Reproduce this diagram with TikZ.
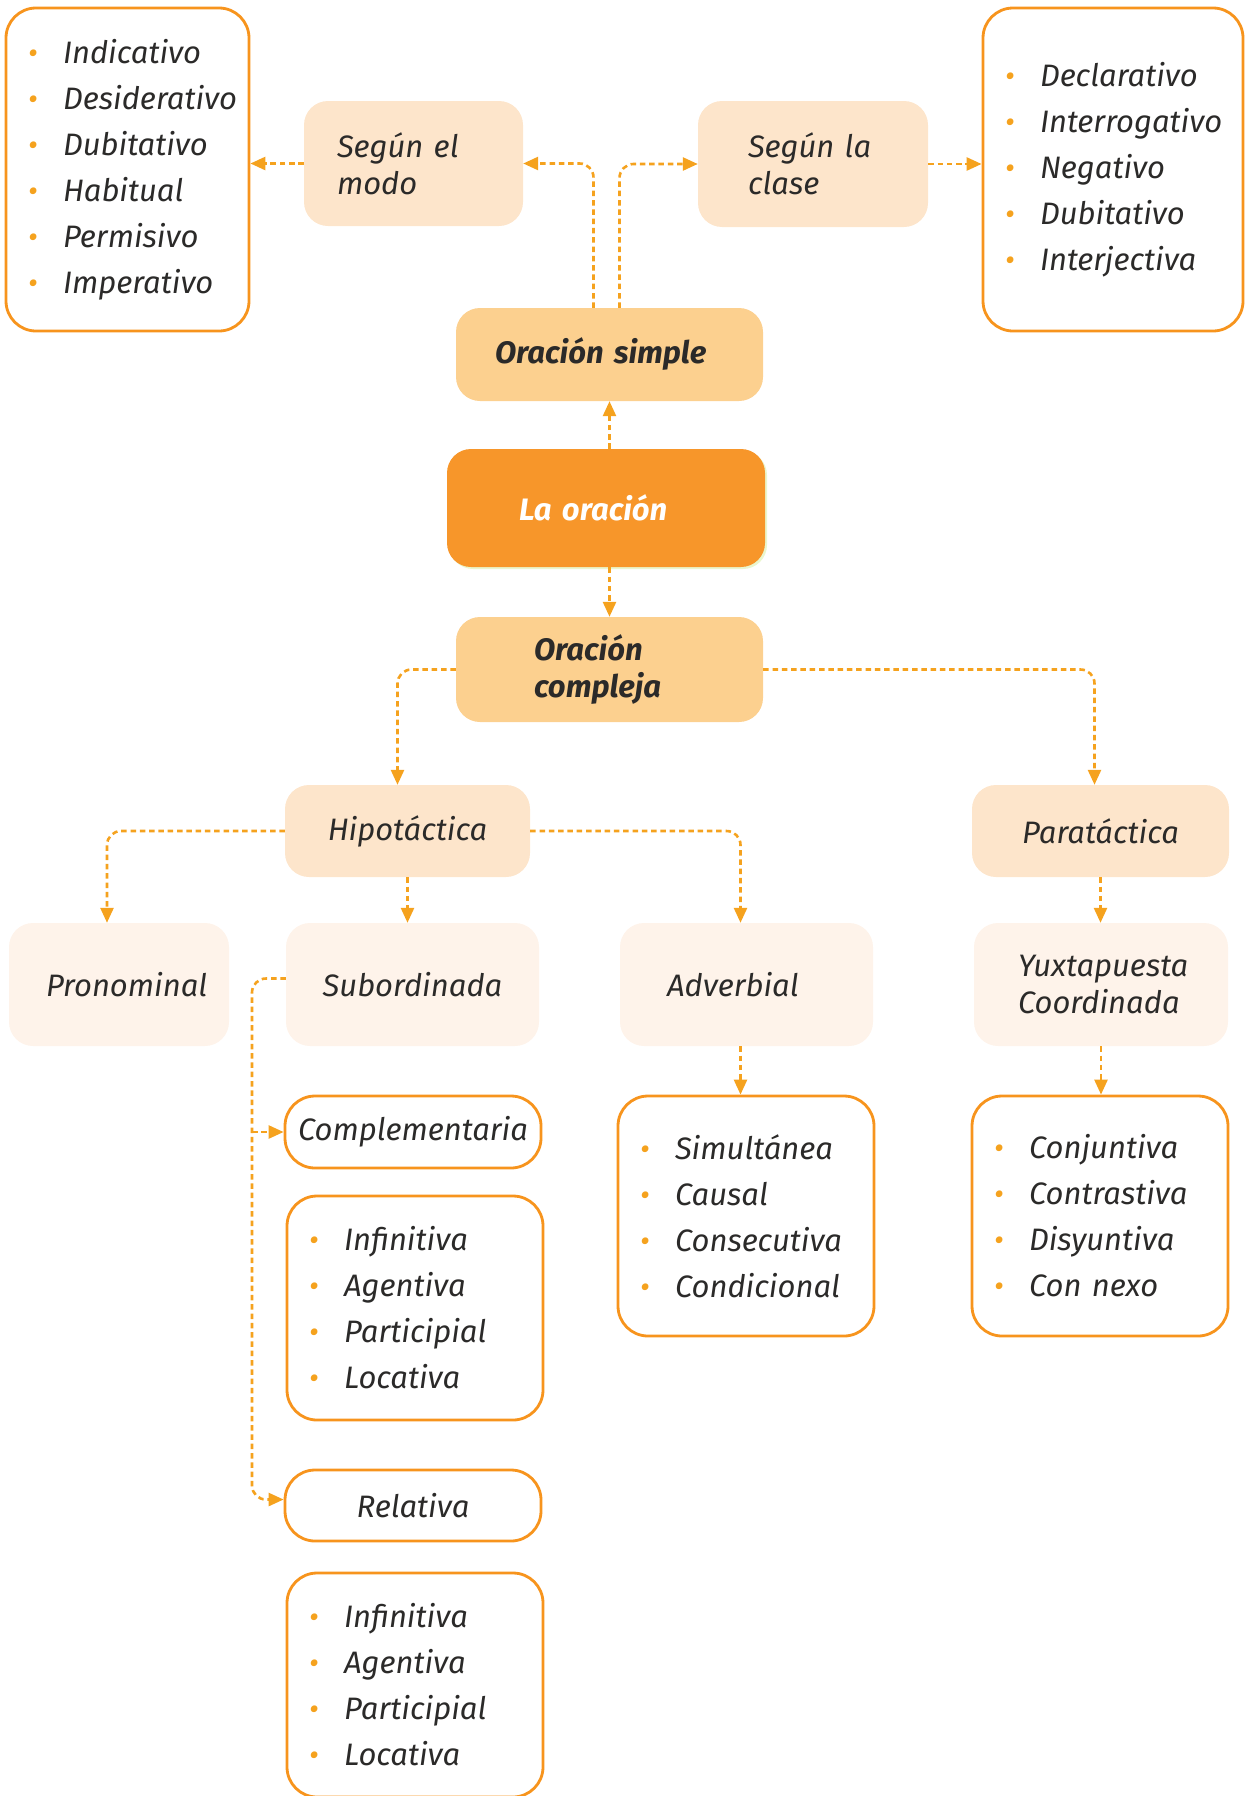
\documentclass[tikz,border=0pt]{standalone}
\usepackage{fontspec}
\setmainfont{Fira Sans}
\usetikzlibrary{arrows.meta,shadows}
\definecolor{mainor}{HTML}{F7962A}
\definecolor{midor}{HTML}{FCD08F}
\definecolor{lightor}{HTML}{FDE5CB}
\definecolor{paleor}{HTML}{FEF3EA}
\definecolor{lineor}{HTML}{F7941D}
\definecolor{arrowor}{HTML}{F5A21E}
\definecolor{txtc}{HTML}{2B2A29}
\newcommand{\itm}[1]{\makebox[35pt][l]{\textcolor{arrowor}{\fontsize{30}{30}\selectfont\textbullet}}#1}
\begin{document}
\begin{tikzpicture}[x=1pt,y=-1pt]
      \tikzstyle{base}=[rectangle,rounded corners=24pt,text=txtc,inner sep=0pt,align=center,font=\fontsize{31}{37}\selectfont\itshape]
      \tikzstyle{mainbox}=[base,fill=mainor,text=white,font=\fontsize{31}{37}\selectfont\bfseries\itshape,drop shadow={shadow xshift=2pt,shadow yshift=-2pt,fill=yellow!60!green!40,opacity=0.5}]
      \tikzstyle{levelone}=[base,fill=midor,font=\fontsize{31}{37}\selectfont\bfseries\itshape]
      \tikzstyle{leveltwo}=[base,fill=lightor]
      \tikzstyle{levelthree}=[base,fill=paleor]
      \tikzstyle{outline}=[base,draw=lineor,line width=2.8pt,fill=white,rounded corners=30pt]
      \tikzstyle{listbox}=[outline,align=left,inner xsep=22pt,font=\fontsize{31}{46}\selectfont\itshape]
      \tikzstyle{conn}=[draw=arrowor,line width=2.6pt,dash pattern=on 5.5pt off 3.8pt,rounded corners=14pt,-{Triangle[length=15pt,width=13pt]}]
      \useasboundingbox (0,0) rectangle (1245,1796);
      \node[listbox,text width=199pt,minimum height=323pt] (modolist) at (127.5,169.5) {\itm{Indicativo}\\\itm{Desiderativo}\\\itm{Dubitativo}\\\itm{Habitual}\\\itm{Permisivo}\\\itm{Imperativo}};
      \node[leveltwo,align=left,inner xsep=33pt,text width=153pt,minimum height=125pt] (segmodo) at (413.5,163.5) {Según el\\modo};
      \node[leveltwo,align=left,inner xsep=50pt,text width=130pt,minimum height=126pt] (segclase) at (813,164) {Según la\\clase};
      \node[listbox,text width=216pt,minimum height=323pt] (claselist) at (1113,169.5) {\itm{Declarativo}\\\itm{Interrogativo}\\\itm{Negativo}\\\itm{Dubitativo}\\\itm{Interjectiva}};
      \node[levelone,align=left,inner xsep=39pt,text width=229pt,minimum height=93pt] (simple) at (609.5,354.5) {Oración simple};
      \node[mainbox,align=left,inner xsep=72pt,text width=174pt,minimum height=118pt] (laor) at (606,508) {La oración};
      \node[levelone,align=left,inner xsep=78pt,text width=151pt,minimum height=105pt] (compleja) at (609.5,669.5) {Oración\\compleja};
      \node[leveltwo,minimum width=245pt,minimum height=92pt] (hipo) at (407.5,831) {Hipotáctica};
      \node[leveltwo,minimum width=257pt,minimum height=92pt] (para) at (1100.5,831) {Paratáctica};
      \node[levelthree,align=left,inner xsep=37pt,text width=146pt,minimum height=123pt] (pron) at (119,984.5) {Pronominal};
      \node[levelthree,minimum width=253pt,minimum height=123pt] (subord) at (412.5,984.5) {Subordinada};
      \node[levelthree,align=left,inner xsep=47pt,text width=159pt,minimum height=123pt] (adv) at (746.5,984.5) {Adverbial};
      \node[levelthree,align=left,inner xsep=44pt,text width=166pt,minimum height=123pt] (yuxt) at (1101,984.5) {Yuxtapuesta\\Coordinada};
      \node[outline,minimum width=256pt,minimum height=72pt] (compl) at (413,1132) {Complementaria};
      \node[listbox,text width=212pt,minimum height=224pt] (compllist) at (415,1308) {\itm{Infinitiva}\\\itm{Agentiva}\\\itm{Participial}\\\itm{Locativa}};
      \node[outline,minimum width=256pt,minimum height=71pt] (rel) at (413,1505.5) {Relativa};
      \node[listbox,text width=212pt,minimum height=224pt] (rellist) at (415,1685) {\itm{Infinitiva}\\\itm{Agentiva}\\\itm{Participial}\\\itm{Locativa}};
      \node[listbox,text width=212pt,minimum height=240pt] (advlist) at (746,1216) {\itm{Simultánea}\\\itm{Causal}\\\itm{Consecutiva}\\\itm{Condicional}};
      \node[listbox,text width=212pt,minimum height=240pt] (paralist) at (1100,1216) {\itm{Conjuntiva}\\\itm{Contrastiva}\\\itm{Disyuntiva}\\\itm{Con nexo}};
      \path[conn] (segmodo.west) -- (segmodo.west -| modolist.east);
      \path[conn] ([xshift=-16pt]simple.north) |- (segmodo.east);
      \path[conn] ([xshift=10pt]simple.north) |- (segclase.west);
      \path[conn] (segclase.east) -- (segclase.east -| claselist.west);
      \path[conn] (simple.south |- laor.north) -- (simple.south);
      \path[conn] (compleja.north |- laor.south) -- (compleja.north);
      \path[conn] (compleja.west) -| ([xshift=-10pt]hipo.north);
      \path[conn] (compleja.east) -| ([xshift=-6pt]para.north);
      \path[conn] (hipo.west) -| ([xshift=-12pt]pron.north);
      \path[conn] (hipo.south) -- (hipo.south |- subord.north);
      \path[conn] (hipo.east) -| ([xshift=-6pt]adv.north);
      \path[conn] (para.south) -- (para.south |- yuxt.north);
      \path[conn] ([xshift=-6pt]adv.south) -- ([xshift=-6pt]adv.south |- advlist.north);
      \path[conn] (yuxt.south) -- (yuxt.south |- paralist.north);
      \coordinate (trunk) at (252,984);
      \coordinate (relin) at ([yshift=6pt]rel.west);
      \path[conn] ([yshift=6pt]subord.west) -| (trunk |- relin) -- (relin);
      \path[conn] (trunk |- compl.west) -- (compl.west);
\end{tikzpicture}
\end{document}
